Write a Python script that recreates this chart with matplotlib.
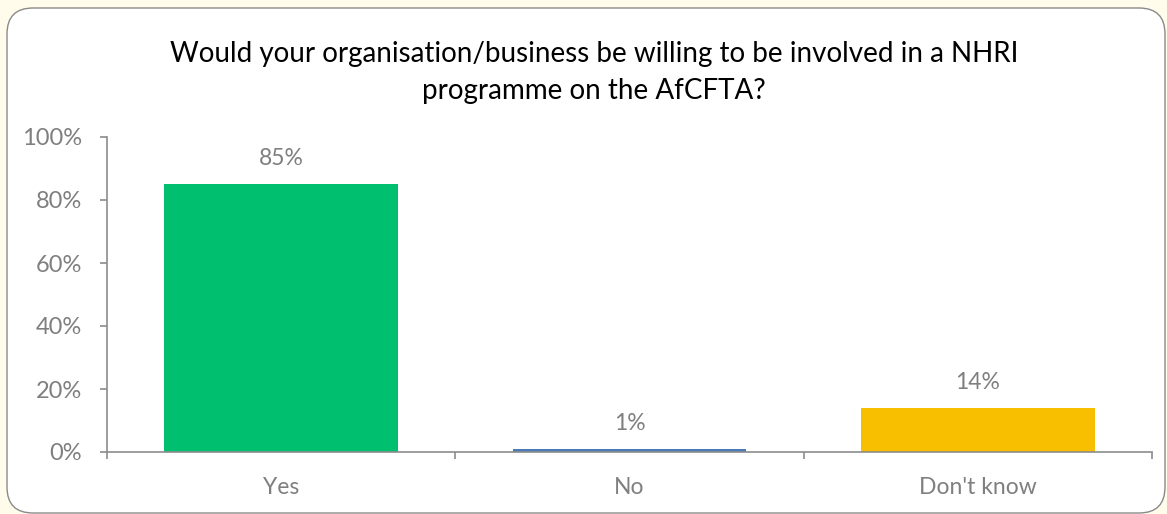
import matplotlib
matplotlib.use('Agg')
import matplotlib.pyplot as plt
from matplotlib.patches import FancyBboxPatch
from matplotlib.ticker import PercentFormatter

# survey answers
categorias = ['Yes', 'No', "Don't know"]
valores = [0.85, 0.01, 0.14]
etiquetas = ['85%', '1%', '14%']
colores = ['#00BF6F', '#4A7AB8', '#F8BE00']

titulo = 'Would your organisation/business be willing to be involved in a NHRI\nprogramme on the AfCFTA?'

plt.rcParams['font.family'] = ['Lato', 'DejaVu Sans']
gris = '#7F7F7F'
eje = '#8C8C8C'

W, H = 1167, 514
fig = plt.figure(figsize=(W / 100, H / 100), dpi=100)
fig.patch.set_facecolor('#FFFCEB')

# rounded white panel, in pixel units
fondo = fig.add_axes([0, 0, 1, 1], zorder=-1)
fondo.set_xlim(0, W)
fondo.set_ylim(H, 0)
fondo.axis('off')
fondo.add_patch(FancyBboxPatch((7, 8), 1158, 505,
                               boxstyle='round,pad=0,rounding_size=26',
                               facecolor='white', edgecolor='#8A8A8A',
                               linewidth=1.0))

ax = fig.add_axes([107 / W, 62 / H, (1152 - 107) / W, (452 - 137) / H])
ax.set_facecolor('none')

x = range(len(categorias))
ax.bar(x, valores, width=0.67, color=colores, zorder=2)

for i, (v, t) in enumerate(zip(valores, etiquetas)):
    ax.annotate(t, (i, v), xytext=(0, 18.5), textcoords='offset points',
                ha='center', va='center', fontsize=16.5, color=gris)

ax.set_xlim(-0.5, 2.5)
ax.set_ylim(0, 1.0)
ax.set_yticks([0, 0.2, 0.4, 0.6, 0.8, 1.0])
ax.yaxis.set_major_formatter(PercentFormatter(1.0, decimals=0))
ax.set_xticks(list(x))
ax.set_xticklabels(categorias)
ax.set_xticks([-0.5, 0.5, 1.5, 2.5], minor=True)

for s in ['top', 'right']:
    ax.spines[s].set_visible(False)
for s in ['left', 'bottom']:
    ax.spines[s].set_color(eje)
    ax.spines[s].set_linewidth(1.2)

ax.tick_params(axis='y', length=5, width=1.2, color=eje, pad=13,
               labelsize=17, labelcolor=gris)
ax.tick_params(axis='x', which='major', length=0, pad=18,
               labelsize=16.5, labelcolor=gris)
ax.tick_params(axis='x', which='minor', length=5, width=1.2, color=eje)

fig.text(594 / W, 1 - 72.5 / H, titulo, ha='center', va='center',
         fontsize=20, color='black', linespacing=1.5)

fig.savefig('out.png', dpi=100, facecolor=fig.get_facecolor())
